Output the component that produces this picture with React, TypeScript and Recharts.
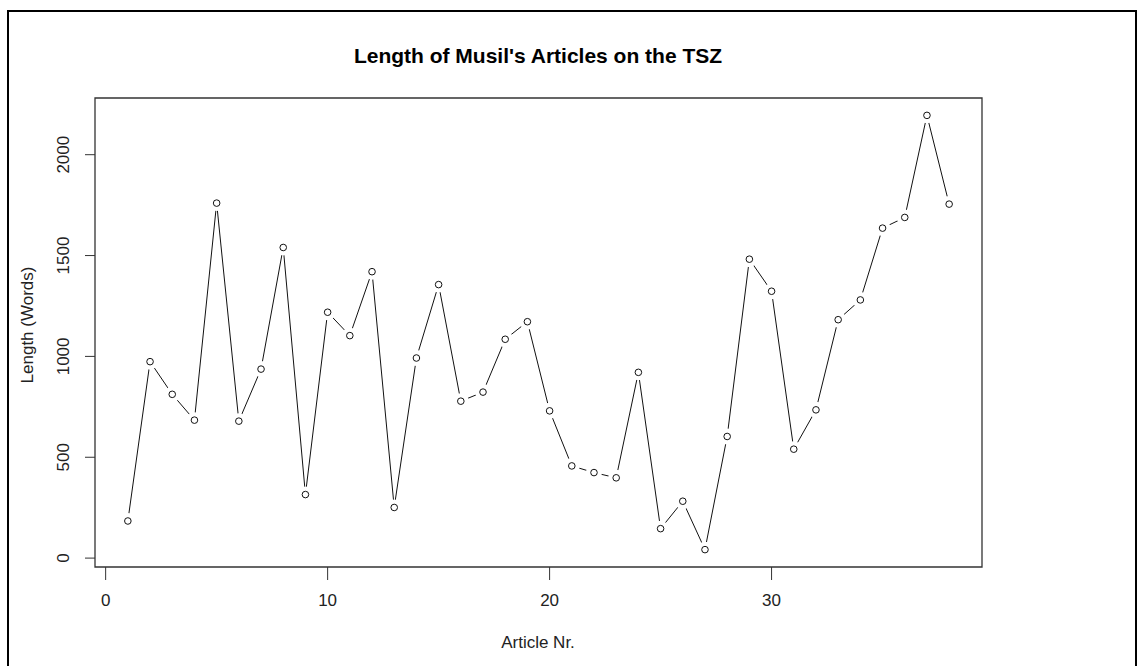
import React from "react";
import {
	LineChart,
	Line,
	XAxis,
	YAxis,
	ReferenceArea
} from "recharts";

// article numbers and their length in words
const articleNr = [
	1, 2, 3, 4, 5, 6, 7, 8, 9, 10, 11, 12, 13, 14, 15, 16, 17, 18, 19,
	20, 21, 22, 23, 24, 25, 26, 27, 28, 29, 30, 31, 32, 33, 34, 35, 36, 37, 38
];
const lengthWords = [
	184, 974, 812, 684, 1760, 679, 937, 1540, 315, 1219, 1103, 1420, 251, 992,
	1356, 778, 823, 1085, 1172, 730, 457, 424, 398, 921, 146, 282, 42, 603,
	1482, 1323, 540, 735, 1182, 1280, 1636, 1689, 2195, 1755
];
const xTicks = [0, 10, 20, 30];
const yTicks = [0, 500, 1000, 1500, 2000];

const data = articleNr.map((nr, i) => ({ nr, words: lengthWords[i] }));

// R style axis ranges: data range plus 4% on each side
function extend(values: number[]): [number, number] {
	const lo = Math.min(...values);
	const hi = Math.max(...values);
	const pad = (hi - lo) * 0.04;
	return [lo - pad, hi + pad];
}
const xDomain = extend(articleNr);
const yDomain = extend(lengthWords);

const FONT = "'Liberation Sans', Arial, sans-serif";
const TEXT = "#222";

// point with a white halo, so the line stops short of it like type = "b"
function PointDot(props: any) {
	const { cx, cy, index } = props;
	if (cx == null || cy == null) return null;
	return (
		<g key={`dot-${index}`}>
			<circle cx={cx} cy={cy} r={8} fill="#fff" stroke="none" />
			<circle cx={cx} cy={cy} r={3.3} fill="#fff" stroke="#111" strokeWidth={1} />
		</g>
	);
}

function YTick(props: any) {
	const { x, y, payload } = props;
	const bx = x - 14;
	return (
		<text
			x={bx}
			y={y}
			transform={`rotate(-90 ${bx} ${y})`}
			textAnchor="middle"
			fontSize={17}
			fontFamily={FONT}
			fill={TEXT}
		>
			{payload.value}
		</text>
	);
}

export default function App() {
	return (
		<div
			style={{
				position: "absolute",
				left: 0,
				top: 0,
				width: 1143,
				height: 666,
				background: "#fff",
				overflow: "hidden"
			}}
		>
			<div
				style={{
					position: "absolute",
					left: 7,
					top: 10,
					width: 1126,
					height: 700,
					border: "2px solid #000"
				}}
			/>
			<div style={{ position: "absolute", left: 0, top: 0 }}>
				<LineChart
					width={1143}
					height={666}
					data={data}
					margin={{ top: 98, right: 161, left: 35, bottom: 59 }}
				>
					<XAxis
						dataKey="nr"
						type="number"
						domain={xDomain}
						ticks={xTicks}
						allowDataOverflow
						axisLine={false}
						tickSize={13}
						tickMargin={14}
						tickLine={{ stroke: "#333" }}
						height={40}
						tick={{ fontSize: 17, fontFamily: FONT, fill: TEXT }}
					/>
					<YAxis
						type="number"
						domain={yDomain}
						ticks={yTicks}
						allowDataOverflow
						axisLine={false}
						tickSize={10}
						tickLine={{ stroke: "#333" }}
						width={60}
						tick={<YTick />}
					/>
					<Line
						type="linear"
						dataKey="words"
						stroke="#111"
						strokeWidth={1}
						dot={PointDot}
						activeDot={false}
						isAnimationActive={false}
					/>
					<ReferenceArea
						x1={xDomain[0]}
						x2={xDomain[1]}
						y1={yDomain[0]}
						y2={yDomain[1]}
						fill="none"
						fillOpacity={0}
						stroke="#333"
						strokeWidth={1.3}
						ifOverflow="visible"
					/>
					<text
						x={538}
						y={63}
						textAnchor="middle"
						fontSize={21}
						fontWeight="bold"
						fontFamily={FONT}
						fill="#000"
					>
						Length of Musil's Articles on the TSZ
					</text>
					<text
						x={538}
						y={648}
						textAnchor="middle"
						fontSize={17}
						fontFamily={FONT}
						fill={TEXT}
					>
						Article Nr.
					</text>
					<text
						x={33}
						y={325}
						transform="rotate(-90 33 325)"
						textAnchor="middle"
						fontSize={17}
						fontFamily={FONT}
						fill={TEXT}
					>
						Length (Words)
					</text>
				</LineChart>
			</div>
		</div>
	);
}
